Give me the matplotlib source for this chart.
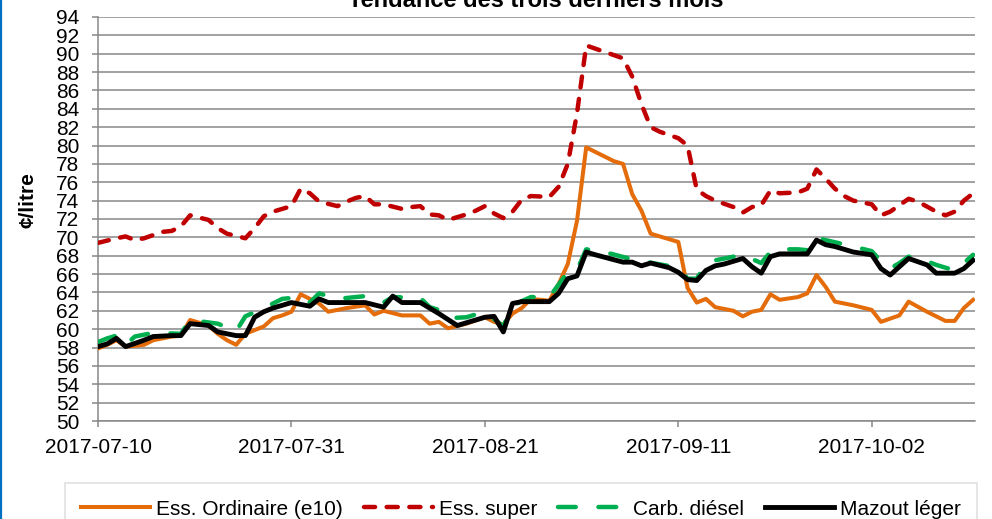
import numpy as np
import pandas as pd
import matplotlib
matplotlib.use("Agg")
import matplotlib.pyplot as plt
from matplotlib.lines import Line2D

plt.rcParams['font.family'] = ['Liberation Sans', 'DejaVu Sans']

# values (cents per litre)
ordinaire_dates = ['07-10', '07-11', '07-12', '07-13', '07-15', '07-16', '07-18', '07-19', '07-20', '07-22',
                   '07-23', '07-24', '07-25', '07-26', '07-28', '07-29', '07-30', '07-31', '08-01', '08-03',
                   '08-04', '08-06', '08-08', '08-09', '08-10', '08-12', '08-14', '08-15', '08-16', '08-17',
                   '08-19', '08-21', '08-22', '08-23', '08-24', '08-25', '08-26', '08-28', '08-29', '08-30',
                   '08-31', '09-01', '09-04', '09-05', '09-06', '09-07', '09-08', '09-11', '09-12', '09-13',
                   '09-14', '09-15', '09-17', '09-18', '09-19', '09-20', '09-21', '09-22', '09-24', '09-25',
                   '09-26', '09-27', '09-28', '09-30', '10-02', '10-03', '10-05', '10-06', '10-08', '10-10',
                   '10-11', '10-12', '10-13']
ordinaire = [57.9, 58.3, 58.8, 58.1, 58.3, 58.8, 59.2, 59.3, 61.0, 60.4,
             59.5, 58.8, 58.3, 59.5, 60.3, 61.2, 61.5, 61.9, 63.8, 62.8,
             61.9, 62.3, 62.6, 61.6, 62.0, 61.5, 61.5, 60.6, 60.8, 60.1,
             60.6, 61.3, 60.8, 60.5, 61.7, 62.3, 63.3, 63.1, 64.9, 67.1,
             71.8, 79.8, 78.3, 78.0, 74.7, 72.9, 70.4, 69.5, 64.5, 62.9,
             63.3, 62.4, 62.0, 61.4, 61.9, 62.1, 63.8, 63.2, 63.5, 63.9,
             65.9, 64.6, 63.0, 62.6, 62.1, 60.8, 61.5, 63.0, 61.9, 60.9,
             60.9, 62.3, 63.2]

super_dates = ['07-10', '07-12', '07-13', '07-14', '07-15', '07-17', '07-18', '07-19', '07-20', '07-22',
               '07-23', '07-24', '07-26', '07-27', '07-28', '07-29', '07-31', '08-01', '08-02', '08-03',
               '08-05', '08-06', '08-07', '08-08', '08-09', '08-10', '08-12', '08-13', '08-14', '08-15',
               '08-16', '08-17', '08-19', '08-20', '08-21', '08-22', '08-23', '08-24', '08-25', '08-26',
               '08-28', '08-29', '08-30', '08-31', '09-01', '09-05', '09-06', '09-07', '09-08', '09-09',
               '09-11', '09-12', '09-13', '09-14', '09-15', '09-17', '09-18', '09-19', '09-20', '09-21',
               '09-22', '09-24', '09-25', '09-26', '09-27', '09-28', '09-29', '09-30', '10-02', '10-03',
               '10-04', '10-06', '10-07', '10-09', '10-10', '10-11', '10-12', '10-13']
super_ = [69.4, 69.9, 70.1, 69.7, 69.9, 70.6, 70.7, 71.2, 72.4, 71.9,
          71.0, 70.4, 69.9, 71.0, 72.3, 72.8, 73.4, 75.3, 74.8, 73.9,
          73.4, 73.9, 74.3, 74.5, 73.6, 73.6, 73.1, 73.3, 73.4, 72.5,
          72.4, 71.9, 72.5, 72.9, 73.4, 72.6, 72.1, 72.8, 74.1, 74.5,
          74.4, 75.5, 78.0, 83.5, 90.9, 89.5, 87.5, 84.5, 82.0, 81.5,
          80.8, 80.0, 75.2, 74.5, 74.0, 73.3, 72.7, 73.3, 73.5, 75.1,
          74.8, 74.9, 75.3, 77.4, 76.4, 75.3, 74.5, 74.0, 73.6, 72.4,
          72.8, 74.2, 73.9, 72.8, 72.4, 72.8, 74.0, 74.8]

diesel_dates = ['07-10', '07-11', '07-12', '07-13', '07-14', '07-16', '07-19', '07-20', '07-23', '07-25',
                '07-26', '07-28', '07-30', '08-01', '08-02', '08-03', '08-05', '08-08', '08-09', '08-10',
                '08-11', '08-14', '08-15', '08-16', '08-17', '08-19', '08-21', '08-23', '08-24', '08-26',
                '08-28', '08-30', '08-31', '09-01', '09-03', '09-06', '09-11', '09-12', '09-13', '09-14',
                '09-15', '09-18', '09-20', '09-21', '09-22', '09-24', '09-25', '09-26', '09-27', '09-30',
                '10-02', '10-03', '10-04', '10-05', '10-06', '10-07', '10-09', '10-11', '10-12', '10-13']
diesel = [58.6, 59.0, 59.3, 58.3, 59.2, 59.6, 59.5, 61.0, 60.6, 59.8,
          61.4, 62.3, 63.3, 63.5, 62.9, 63.9, 63.3, 63.6, 63.3, 62.9,
          63.5, 63.4, 62.4, 62.1, 61.2, 61.3, 61.9, 60.3, 62.6, 63.5,
          63.5, 66.2, 66.4, 68.7, 68.4, 67.6, 66.7, 65.5, 65.5, 67.1,
          67.5, 68.1, 67.2, 68.4, 68.7, 68.7, 68.6, 70.0, 69.7, 69.0,
          68.5, 67.4, 66.6, 67.2, 67.9, 67.8, 67.0, 66.4, 67.2, 68.1]

mazout_dates = ['07-10', '07-11', '07-12', '07-13', '07-15', '07-16', '07-18', '07-19', '07-20', '07-22',
                '07-23', '07-25', '07-26', '07-27', '07-28', '07-29', '07-31', '08-02', '08-03', '08-04',
                '08-08', '08-10', '08-11', '08-12', '08-14', '08-16', '08-18', '08-19', '08-21', '08-22',
                '08-23', '08-24', '08-25', '08-28', '08-29', '08-30', '08-31', '09-01', '09-02', '09-05',
                '09-06', '09-07', '09-08', '09-10', '09-11', '09-12', '09-13', '09-14', '09-15', '09-16',
                '09-18', '09-19', '09-20', '09-21', '09-22', '09-25', '09-26', '09-27', '09-28', '09-30',
                '10-02', '10-03', '10-04', '10-06', '10-08', '10-09', '10-11', '10-12', '10-13']
mazout = [58.1, 58.4, 59.0, 58.1, 58.8, 59.2, 59.3, 59.3, 60.6, 60.4,
          59.7, 59.3, 59.3, 61.3, 61.9, 62.3, 62.9, 62.5, 63.3, 62.9,
          62.9, 62.4, 63.6, 62.9, 62.9, 61.7, 60.4, 60.7, 61.3, 61.4,
          59.7, 62.8, 63.0, 63.0, 63.9, 65.5, 65.8, 68.4, 68.1, 67.3,
          67.3, 66.9, 67.2, 66.7, 66.2, 65.4, 65.3, 66.4, 66.9, 67.1,
          67.7, 66.8, 66.1, 67.9, 68.2, 68.2, 69.7, 69.2, 69.0, 68.4,
          68.1, 66.6, 65.9, 67.7, 67.0, 66.1, 66.1, 66.6, 67.5]

tick_dates = ['2017-07-10', '2017-07-31', '2017-08-21', '2017-09-11', '2017-10-02']


def to_dates(md):
    return pd.to_datetime(['2017-' + d for d in md])


fig = plt.figure(figsize=(9.92, 5.19), dpi=100)
ax = fig.add_axes([98 / 992, 1 - 421 / 519, (975 - 98) / 992, (421 - 17) / 519])

grid_col = '#878787'
ax.plot(to_dates(ordinaire_dates), ordinaire, color='#E46C0A', lw=2.9,
        solid_joinstyle='round', label='Ess. Ordinaire (e10)', zorder=3)
ax.plot(to_dates(super_dates), super_, color='#C00000', lw=3.2, dashes=(2.5, 2.6),
        dash_capstyle='round', dash_joinstyle='round', label='Ess. super', zorder=4)
ax.plot(to_dates(diesel_dates), diesel, color='#00B050', lw=3.2, dashes=(4.0, 5.1),
        dash_capstyle='round', dash_joinstyle='round', label='Carb. diésel', zorder=5)
ax.plot(to_dates(mazout_dates), mazout, color='black', lw=3.5,
        solid_joinstyle='round', label='Mazout léger', zorder=6)

ax.set_ylim(50, 94)
ax.set_yticks(np.arange(50, 95, 2))
ax.set_xlim(pd.Timestamp('2017-07-10'), pd.Timestamp('2017-10-13 05:00'))
ax.set_xticks(pd.to_datetime(tick_dates))
ax.set_xticklabels(tick_dates)

ax.grid(axis='y', color=grid_col, lw=1.1)
ax.set_axisbelow(True)
for s in ['top', 'right']:
    ax.spines[s].set_visible(False)
for s in ['left', 'bottom']:
    ax.spines[s].set_color(grid_col)
    ax.spines[s].set_linewidth(1.1)
ax.tick_params(axis='both', colors=grid_col, labelcolor='black', labelsize=15,
               length=4.5, width=1.1)
ax.tick_params(axis='y', pad=9)
ax.tick_params(axis='x', pad=8)

fig.text(536 / 992, 1 - 7 / 519, 'Tendance des trois derniers mois', ha='center',
         va='baseline', fontsize=17, fontweight='bold')
fig.text(28 / 992, 1 - 200 / 519, '¢/litre', rotation=90, ha='center', va='center',
         fontsize=15, fontweight='bold')

leg = fig.legend(loc='upper center', bbox_to_anchor=(521 / 992, 1 - 483 / 519), ncol=4,
                 fontsize=15, frameon=True, fancybox=False, handlelength=3.3,
                 handletextpad=0.3, columnspacing=1.0, borderpad=0.8, borderaxespad=0)
leg.get_frame().set_edgecolor('#D9D9D9')
leg.get_frame().set_linewidth(1.2)

# blue border at the left of the picture
fig.add_artist(Line2D([1 / 992, 1 / 992], [0, 1], color='#0070C0', lw=1.6,
                      transform=fig.transFigure))

fig.savefig('out.png', dpi=100)
